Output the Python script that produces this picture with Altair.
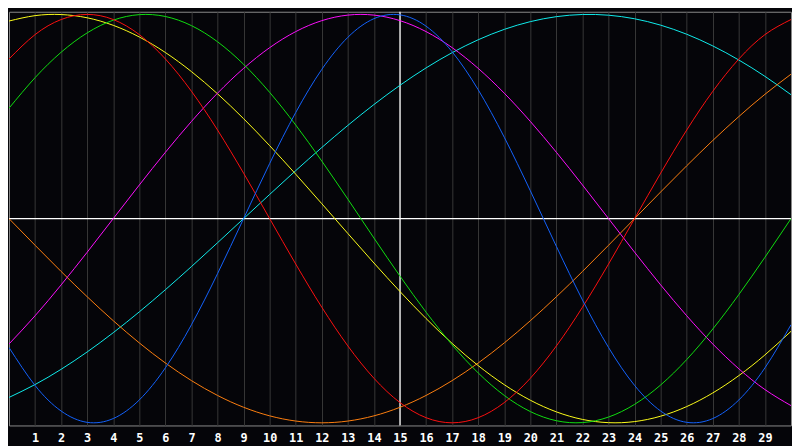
import altair as alt
import pandas as pd

# Day positions (x) and the seven cycle curves, one value per day
days = list(range(0, 31))
tick_days = list(range(1, 30))

cycle_23 = [-0.6311, -0.8170, -0.9423, -0.9977, -0.9791, -0.8879, -0.7308, -0.5196, -0.2698, 0.0,
            0.2698, 0.5196, 0.7308, 0.8879, 0.9791, 0.9977, 0.9423, 0.8170, 0.6311, 0.3984,
            0.1362, -0.1362, -0.3984, -0.6311, -0.8170, -0.9423, -0.9977, -0.9791, -0.8879, -0.7308,
            -0.5196]
cycle_28 = [0.7818, 0.9010, 0.9749, 1.0, 0.9749, 0.9010, 0.7818, 0.6235, 0.4339, 0.2225,
            0.0, -0.2225, -0.4339, -0.6235, -0.7818, -0.9010, -0.9749, -1.0, -0.9749, -0.9010,
            -0.7818, -0.6235, -0.4339, -0.2225, 0.0, 0.2225, 0.4339, 0.6235, 0.7818, 0.9010,
            0.9749]
cycle_33 = [0.5406, 0.6901, 0.8146, 0.9096, 0.9718, 0.9989, 0.9898, 0.9450, 0.8660, 0.7557,
            0.6182, 0.4582, 0.2817, 0.0951, -0.0951, -0.2817, -0.4582, -0.6182, -0.7557, -0.8660,
            -0.9450, -0.9898, -0.9989, -0.9718, -0.9096, -0.8146, -0.6901, -0.5406, -0.3717, -0.1893,
            0.0]
cycle_38 = [-0.6142, -0.4759, -0.3247, -0.1646, 0.0, 0.1646, 0.3247, 0.4759, 0.6142, 0.7357,
            0.8372, 0.9158, 0.9694, 0.9966, 0.9966, 0.9694, 0.9158, 0.8372, 0.7357, 0.6142,
            0.4759, 0.3247, 0.1646, 0.0, -0.1646, -0.3247, -0.4759, -0.6142, -0.7357, -0.8372,
            -0.9158]
cycle_43 = [0.9675, 0.9940, 0.9993, 0.9834, 0.9465, 0.8894, 0.8133, 0.7199, 0.6112, 0.4894,
            0.3572, 0.2174, 0.0730, -0.0730, -0.2174, -0.3572, -0.4894, -0.6112, -0.7199, -0.8133,
            -0.8894, -0.9465, -0.9834, -0.9993, -0.9940, -0.9675, -0.9204, -0.8536, -0.7687, -0.6675,
            -0.5518]
cycle_48 = [0.0, -0.1305, -0.2588, -0.3827, -0.5, -0.6088, -0.7071, -0.7934, -0.8660, -0.9239,
            -0.9659, -0.9914, -1.0, -0.9914, -0.9659, -0.9239, -0.8660, -0.7934, -0.7071, -0.6088,
            -0.5, -0.3827, -0.2588, -0.1305, 0.0, 0.1305, 0.2588, 0.3827, 0.5, 0.6088,
            0.7071]
cycle_53 = [-0.8758, -0.8126, -0.7380, -0.6529, -0.5586, -0.4566, -0.3482, -0.2349, -0.1183, 0.0,
            0.1183, 0.2349, 0.3482, 0.4566, 0.5586, 0.6529, 0.7380, 0.8126, 0.8758, 0.9267,
            0.9646, 0.9890, 0.9996, 0.9961, 0.9786, 0.9473, 0.9028, 0.8456, 0.7765, 0.6966,
            0.6068]

series_names = ["c53", "c48", "c43", "c38", "c33", "c28", "c23"]
series_values = [cycle_53, cycle_48, cycle_43, cycle_38, cycle_33, cycle_28, cycle_23]
series_colors = ["#10eeee", "#ff8010", "#ffff1a", "#ff10ff", "#10e010", "#ff1010", "#1464ff"]

today_day = [15]
zero_level = [0]

rows = []
for name, vals in zip(series_names, series_values):
    for d, v in zip(days, vals):
        rows.append({"day": d, "value": v, "series": name})
df = pd.DataFrame(rows)

xscale = alt.Scale(domain=[0, 30], nice=False, zero=False)
yscale = alt.Scale(domain=[-1.013, 1.013], nice=False, zero=False)
xaxis = alt.Axis(
    values=tick_days, grid=True, gridColor="#383838", gridWidth=1,
    domain=False, ticks=False, title=None, format="d",
    labelColor="white", labelFont="DejaVu Sans Mono", labelFontWeight="bold",
    labelFontSize=12, labelAlign="center", labelPadding=7,
    labelExpr="datum.value < 10 ? datum.label + '\u2007' : datum.label",
    labelFlush=False, labelOverlap=False,
)

hline = alt.Chart(pd.DataFrame({"value": zero_level})).mark_rule(
    color="white", strokeWidth=1.3
).encode(y=alt.Y("value:Q", scale=yscale, axis=None))

vline = alt.Chart(pd.DataFrame({"day": today_day})).mark_rule(
    color="white", strokeWidth=1.3
).encode(x=alt.X("day:Q", scale=xscale, axis=xaxis))

lines = alt.Chart(df).mark_line(strokeWidth=1, interpolate="natural", clip=True).encode(
    x=alt.X("day:Q", scale=xscale, axis=xaxis),
    y=alt.Y("value:Q", scale=yscale, axis=None),
    color=alt.Color("series:N", scale=alt.Scale(domain=series_names, range=series_colors), legend=None),
    detail="series:N",
)

chart = alt.layer(hline, vline, lines).properties(
    width=792, height=419, padding=0, background="#050509"
).configure_view(stroke="#8a8a8a", strokeWidth=1)

chart.save("out.html", embed_options={"renderer": "svg", "actions": False})
